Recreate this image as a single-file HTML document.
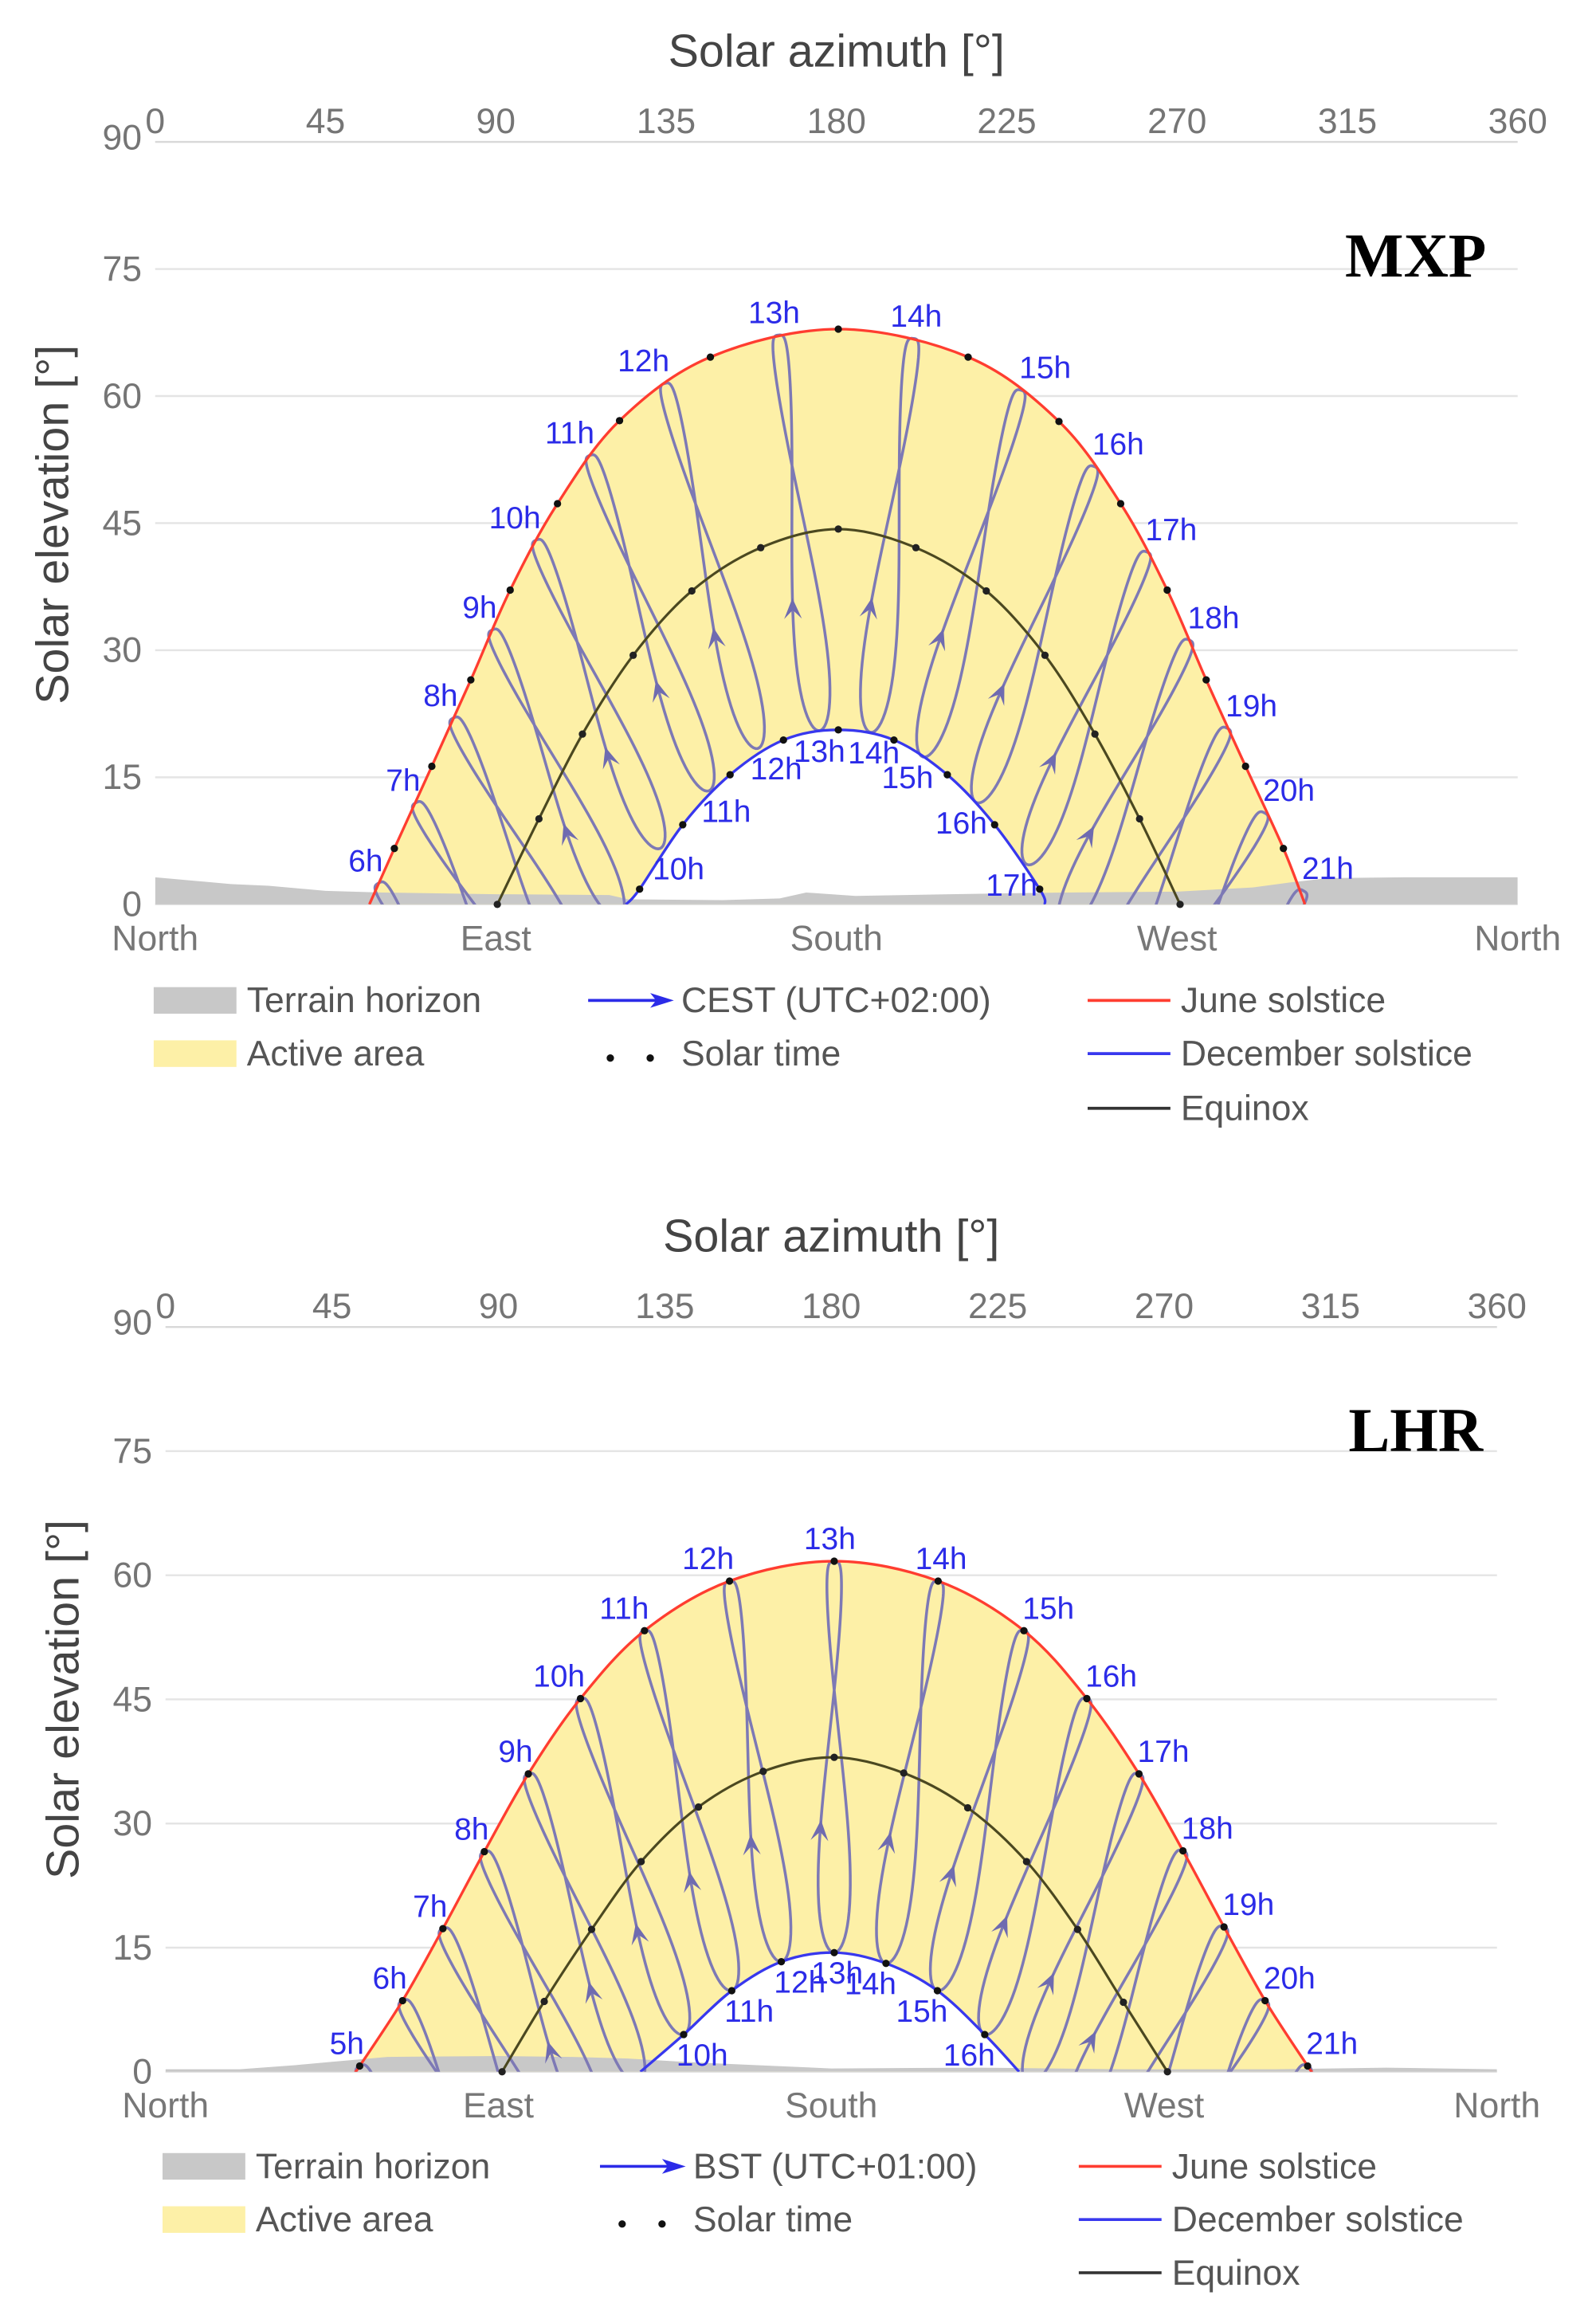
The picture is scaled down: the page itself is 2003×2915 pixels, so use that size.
<!DOCTYPE html>
<html>
<head>
<meta charset="utf-8">
<style>
html,body{margin:0;padding:0;background:#fff;}
svg{display:block;}
text{font-family:"Liberation Sans",Arial,sans-serif;}
</style>
</head>
<body>
<svg id="root" xmlns="http://www.w3.org/2000/svg" width="2003" height="2915" viewBox="0 0 1080 1572" preserveAspectRatio="none">
<rect x="0" y="0" width="1080" height="1572" fill="#fff"/>
</svg>
<script>
// ---------- tick labels ----------
const azTicks = [0,45,90,135,180,225,270,315,360];
const elTicks = [0,15,30,45,60,75,90];
const dirLabels = ['North','East','South','West','North'];
const dirAz = [0,90,180,270,360];

// ---------- MXP data ----------
const mxpJuneAz = [56.6,63.2,73.1,83.4,93.8,106.3,122.7,146.7,180.5,214.8,238.8,255.1,267.4,277.7,288.1,298.1,303.8];
const mxpJuneEl = [0,6.6,16.3,26.5,37.1,47.3,57.1,64.6,67.9,64.6,57.0,47.3,37.1,26.5,16.3,6.6,0];
const mxpEqAz = [90.4,101.4,112.9,126.3,141.8,160.0,180.5,201.0,219.6,235.1,248.3,260.1,270.8];
const mxpEqEl = [0,10.1,20.1,29.4,37.0,42.1,44.3,42.1,37.0,29.4,20.1,10.1,0];
const mxpDecAz = [124.4,128.0,139.4,151.9,166.0,180.5,195.2,209.3,221.8,233.7,235.1];
const mxpDecEl = [0,1.8,9.4,15.3,19.4,20.6,19.4,15.3,9.4,1.8,0];
const mxpHours = [6,7,8,9,10,11,12,13,14,15,16,17,18,19,20,21];
const mxpHourJuneAz = [59.0,68.9,78.8,89.1,100.7,114.9,134.7,164.7,200.3,228.7,248.0,262.0,273.2,283.2,293.1,303.4];
const mxpHourJuneEl = [2.5,12.0,22.0,32.4,43.0,53.0,61.5,67.2,66.8,60.7,51.7,41.6,31.2,20.8,10.8,1.6];
const mxpHourDecAz = [92.6,103.3,113.2,122.7,133.4,146.3,159.2,175.5,189.1,202.9,217.1,230.4,239.6,248.9,258.8,269.9];
const mxpHourDecEl = [-23.6,-16.8,-9.4,-1.6,6.6,13.4,18.4,20.5,20.3,17.4,12.0,4.7,-3.3,-11.2,-18.5,-25.1];
const mxpTerrainAz = [0,10,20,30,45,60,90,120,125,150,165,172,185,210,240,270,290,300,310,330,360];
const mxpTerrainEl = [3.2,2.8,2.4,2.2,1.6,1.4,1.2,1.1,0.6,0.5,0.7,1.4,1.0,1.2,1.4,1.5,2.0,2.6,3.1,3.2,3.2];

// ---------- LHR data ----------
const lhrJuneAz = [51.3,52.5,64.1,75.0,86.2,98.1,112.2,129.5,152.5,180.8,208.9,232.1,249.1,263.2,275.1,286.2,297.3,308.8,310.0];
const lhrJuneEl = [0,0.7,8.6,17.3,26.6,36.0,45.1,53.3,59.3,61.7,59.3,53.3,45.1,36.0,26.7,17.5,8.6,0.7,0];
const lhrEqAz = [91.0,102.4,115.2,128.6,144.1,161.6,180.8,199.6,216.9,232.8,246.6,259.0,270.9];
const lhrEqEl = [0,8.5,17.2,25.4,32.0,36.3,38.0,36.1,31.9,25.4,17.2,8.4,0];
const lhrDecAz = [128.4,140.1,153.1,166.5,180.8,194.8,208.7,221.5,230.8];
const lhrDecEl = [0,4.5,9.8,13.3,14.4,13.1,9.8,4.5,0];
const lhrHours = [5,6,7,8,9,10,11,12,13,14,15,16,17,18,19,20,21];
const lhrHourJuneAz = [52.5,64.1,75.0,86.2,98.1,112.2,129.5,152.5,180.8,208.9,232.1,249.1,263.2,275.1,286.2,297.3,308.8];
const lhrHourJuneEl = [0.7,8.6,17.3,26.6,36.0,45.1,53.3,59.3,61.7,59.3,53.3,45.1,36.0,26.7,17.5,8.6,0.7];
const lhrHourDecAz = [82.9,95.2,106.6,117.4,128.1,140.1,153.1,166.5,180.8,194.8,208.7,221.5,233.2,244.0,254.7,265.5,277.6];
const lhrHourDecEl = [-24.6,-19.6,-13.9,-7.6,-1.5,4.5,9.8,13.3,14.4,13.1,9.8,4.5,-1.5,-7.6,-13.8,-19.6,-24.6];
const lhrTerrainAz = [0,20,35,45,60,90,110,125,140,160,180,220,260,300,330,360];
const lhrTerrainEl = [0.3,0.3,0.8,1.2,1.8,1.9,1.8,1.6,1.2,0.8,0.4,0.5,0.3,0.3,0.5,0.3];

const NS = 'http://www.w3.org/2000/svg';
const root = document.getElementById('root');

function mk(tag, attrs, parent, name) {
  const n = document.createElementNS(NS, tag);
  for (const k in attrs) n.setAttribute(k, attrs[k]);
  
  
  parent.appendChild(n);
  return n;
}
function txt(str, attrs, parent, name) {
  const n = mk('text', attrs, parent, name);
  n.textContent = str;
  return n;
}
function smooth(pts) {
  let d = 'M' + pts[0][0].toFixed(2) + ',' + pts[0][1].toFixed(2);
  for (let i = 0; i < pts.length - 1; i++) {
    const p0 = pts[Math.max(0, i - 1)], p1 = pts[i], p2 = pts[i + 1], p3 = pts[Math.min(pts.length - 1, i + 2)];
    const c1 = [p1[0] + (p2[0] - p0[0]) / 6, p1[1] + (p2[1] - p0[1]) / 6];
    const c2 = [p2[0] - (p3[0] - p1[0]) / 6, p2[1] - (p3[1] - p1[1]) / 6];
    d += ' C' + c1[0].toFixed(2) + ',' + c1[1].toFixed(2) + ' ' + c2[0].toFixed(2) + ',' + c2[1].toFixed(2) + ' ' + p2[0].toFixed(2) + ',' + p2[1].toFixed(2);
  }
  return d;
}

function drawChart(c, idx) {
  const g = mk('g', {}, root, c.key + '-chart');
  const X = az => c.x0 + (c.x1 - c.x0) * az / 360;
  const Y = el => c.yBase - el * c.ppe;
  const grey = '#757575';

  const defs = mk('defs', {}, g, c.key + '-defs');
  const cp = mk('clipPath', {id: 'clip' + idx}, defs, c.key + '-clip');
  mk('rect', {x: c.x0, y: Y(90) - 5, width: c.x1 - c.x0, height: Y(0) - Y(90) + 5}, cp, c.key + '-clip-rect');

  txt('Solar azimuth [°]', {x: (c.x0 + c.x1) / 2, y: c.titleY + 11, 'text-anchor': 'middle', 'font-size': 31, fill: '#444'}, g, 'x-axis-title');
  azTicks.forEach((v) => {
    txt(String(v), {x: X(v), y: c.tickY + 9, 'text-anchor': 'middle', 'font-size': 24, fill: grey}, g, 'x-tick-' + v);
  });
  elTicks.forEach((v) => {
    mk('line', {x1: c.x0, x2: c.x1, y1: Y(v), y2: Y(v), stroke: v === 90 ? '#d8d8d8' : '#e4e4e4', 'stroke-width': 1.3}, g, 'gridline-' + v);
    txt(String(v), {x: c.x0 - 9, y: Y(v) + (v === 90 ? 5 : 8), 'text-anchor': 'end', 'font-size': 24, fill: grey}, g, 'y-tick-' + v);
  });
  txt('Solar elevation [°]', {x: 0, y: 0, transform: 'translate(' + (c.yTitleX + 11) + ',' + c.yTitleY + ') rotate(-90)', 'text-anchor': 'middle', 'font-size': 31, fill: '#444'}, g, 'y-axis-title');
  dirLabels.forEach((s, i) => {
    txt(s, {x: X(dirAz[i]), y: c.dirY + 8, 'text-anchor': 'middle', 'font-size': 24, fill: '#777'}, g, 'direction-' + s.toLowerCase());
  });
  txt(c.label, {x: 958, y: c.labelY + 14, 'text-anchor': 'middle', 'font-size': 42, 'font-weight': 'bold', fill: '#000', style: 'font-family:"Liberation Serif",serif'}, g, 'site-label');

  const pts = (a, e) => a.map((v, i) => [X(v), Y(e[i])]);
  const june = pts(c.juneAz, c.juneEl);
  const dec = pts(c.decAz, c.decEl);
  const eq = pts(c.eqAz, c.eqEl);

  const plot = mk('g', {'clip-path': 'url(#clip' + idx + ')'}, g, 'plot-area');
  mk('path', {d: smooth(june) + ' Z', fill: '#fdf0a7', stroke: 'none'}, plot, 'active-area');
  mk('path', {d: smooth(dec) + ' Z', fill: '#ffffff', stroke: 'none'}, plot, 'winter-gap');
  let td = 'M' + X(c.terrAz[0]) + ',' + Y(0);
  c.terrAz.forEach((a, i) => { td += ' L' + X(a).toFixed(2) + ',' + Y(c.terrEl[i]).toFixed(2); });
  td += ' L' + X(c.terrAz[c.terrAz.length - 1]) + ',' + Y(0) + ' Z';
  mk('path', {d: td, fill: '#c8c8c8', stroke: 'none'}, plot, 'terrain-horizon');

  const ana = mk('g', {}, plot, 'analemmas');
  const w = 10;
  c.hours.forEach((h, i) => {
    const T = [X(c.hJAz[i]), Y(c.hJEl[i])];
    const B = [X(c.hDAz[i]), Y(c.hDEl[i])];
    const dx = B[0] - T[0], dy = B[1] - T[1];
    const L = Math.hypot(dx, dy);
    const nx = -dy / L, ny = dx / L;
    const P = t => {
      const s0 = (1 - Math.cos(t)) / 2;
      const s = Math.pow(s0, 1.6);
      const off = w * Math.sin(2 * t) * (0.45 + 0.8 * s);
      return [T[0] + dx * s + nx * off, T[1] + dy * s + ny * off];
    };
    let d = '';
    const N = 120;
    for (let k = 0; k <= N; k++) {
      const p = P(2 * Math.PI * k / N);
      d += (k ? ' L' : 'M') + p[0].toFixed(2) + ',' + p[1].toFixed(2);
    }
    mk('path', {d: d, fill: 'none', stroke: '#7d79b5', 'stroke-width': 1.9}, ana, 'analemma-' + h + 'h');
    const ta = 1.3 * Math.PI;
    const a1 = P(ta), a2 = P(ta + 0.03);
    if (a1[1] < Y(0) - 8) {
      const ux = a2[0] - a1[0], uy = a2[1] - a1[1], ul = Math.hypot(ux, uy);
      const fx = ux / ul, fy = uy / ul;
      const tip = [a1[0] + fx * 8, a1[1] + fy * 8];
      const bl = [a1[0] - fx * 6 - fy * 6, a1[1] - fy * 6 + fx * 6];
      const br = [a1[0] - fx * 6 + fy * 6, a1[1] - fy * 6 - fx * 6];
      mk('polygon', {points: tip.join(',') + ' ' + bl.join(',') + ' ' + a1.join(',') + ' ' + br.join(','), fill: '#6f6bb0'}, ana, 'analemma-arrow-' + h + 'h');
    }
  });

  mk('path', {d: smooth(eq), fill: 'none', stroke: '#4b4820', 'stroke-width': 1.7}, plot, 'equinox-curve');
  mk('path', {d: smooth(june), fill: 'none', stroke: '#ff3d30', 'stroke-width': 1.8}, plot, 'june-solstice-curve');
  mk('path', {d: smooth(dec), fill: 'none', stroke: '#3838ee', 'stroke-width': 1.8}, plot, 'december-solstice-curve');

  const dots = mk('g', {}, g, 'solar-time-dots');
  june.forEach((p, i) => { if (c.juneEl[i] > 0) mk('circle', {cx: p[0], cy: p[1], r: 2.5, fill: '#111'}, dots, 'june-dot'); });
  eq.forEach((p) => { mk('circle', {cx: p[0], cy: p[1], r: 2.5, fill: '#222'}, dots, 'equinox-dot'); });
  dec.forEach((p, i) => { if (c.decEl[i] > 0) mk('circle', {cx: p[0], cy: p[1], r: 2.5, fill: '#111'}, dots, 'december-dot'); });

  const lab = mk('g', {}, g, 'hour-labels');
  c.hours.forEach((h, i) => {
    const a = c.hJAz[i];
    const px = X(a), py = Y(c.hJEl[i]);
    let anchor = 'middle', x = px - 3;
    if (a < 155) { anchor = 'end'; x = px + 3; }
    else if (a > 210) { anchor = 'start'; x = px - 1; }
    else if (a > 185) { x = px + 2; }
    txt(h + 'h', {x: x, y: py - 8, 'text-anchor': anchor, 'font-size': 21, fill: '#2b2be8'}, lab, 'june-hour-label-' + h);
    const da = c.hDAz[i], de = c.hDEl[i];
    if (de > 0) {
      const qx = X(da), qy = Y(de);
      let an2 = 'middle', x2 = qx;
      if (da < 170) { an2 = 'start'; x2 = qx - 5; }
      else if (da > 192) { an2 = 'end'; x2 = qx + 7; }
      else if (da < 180) { x2 = qx; } else { x2 = qx + 2; }
      txt(h + 'h', {x: x2, y: qy + 21, 'text-anchor': an2, 'font-size': 21, fill: '#2b2be8'}, lab, 'december-hour-label-' + h);
    }
  });

  const lg = mk('g', {}, g, 'legend');
  const L = c.leg;
  mk('rect', {x: L.sx, y: L.r[0] - 9, width: 56, height: 18, fill: '#c8c8c8'}, lg, 'legend-terrain-swatch');
  txt('Terrain horizon', {x: L.sx + 63, y: L.r[0] + 8, 'font-size': 24, fill: '#555'}, lg, 'legend-terrain-label');
  mk('rect', {x: L.sx, y: L.r[1] - 9, width: 56, height: 18, fill: '#fdf0a7'}, lg, 'legend-active-swatch');
  txt('Active area', {x: L.sx + 63, y: L.r[1] + 8, 'font-size': 24, fill: '#555'}, lg, 'legend-active-label');
  mk('line', {x1: L.ax, x2: L.ax + 50, y1: L.r[0], y2: L.r[0], stroke: '#2b2be8', 'stroke-width': 2}, lg, 'legend-timezone-line');
  mk('polygon', {points: (L.ax + 58) + ',' + L.r[0] + ' ' + (L.ax + 42) + ',' + (L.r[0] - 5) + ' ' + (L.ax + 46) + ',' + L.r[0] + ' ' + (L.ax + 42) + ',' + (L.r[0] + 5), fill: '#2b2be8'}, lg, 'legend-timezone-arrow');
  txt(c.tz, {x: L.ax + 63, y: L.r[0] + 8, 'font-size': 24, fill: '#555'}, lg, 'legend-timezone-label');
  mk('circle', {cx: L.ax + 15, cy: L.r[1] + 3, r: 2.5, fill: '#111'}, lg, 'legend-dot-1');
  mk('circle', {cx: L.ax + 42, cy: L.r[1] + 3, r: 2.5, fill: '#111'}, lg, 'legend-dot-2');
  txt('Solar time', {x: L.ax + 63, y: L.r[1] + 8, 'font-size': 24, fill: '#555'}, lg, 'legend-solar-time-label');
  const cols = ['#ff3d30', '#3838ee', '#333'];
  const names = ['June solstice', 'December solstice', 'Equinox'];
  names.forEach((n, i) => {
    mk('line', {x1: L.lx, x2: L.lx + 56, y1: L.r[i], y2: L.r[i], stroke: cols[i], 'stroke-width': 2}, lg, 'legend-line-' + i);
    txt(n, {x: L.lx + 63, y: L.r[i] + 8, 'font-size': 24, fill: '#555'}, lg, 'legend-label-' + i);
  });
}

drawChart({key: 'mxp', x0: 105, x1: 1027, yBase: 612, ppe: 5.733, titleY: 34, tickY: 81, dirY: 635, yTitleX: 35, yTitleY: 355, label: 'MXP', labelY: 173, tz: 'CEST (UTC+02:00)',
  juneAz: mxpJuneAz, juneEl: mxpJuneEl, eqAz: mxpEqAz, eqEl: mxpEqEl, decAz: mxpDecAz, decEl: mxpDecEl,
  hours: mxpHours, hJAz: mxpHourJuneAz, hJEl: mxpHourJuneEl, hDAz: mxpHourDecAz, hDEl: mxpHourDecEl,
  terrAz: mxpTerrainAz, terrEl: mxpTerrainEl,
  leg: {sx: 104, ax: 398, lx: 736, r: [677, 713, 750]}}, 0);

drawChart({key: 'lhr', x0: 112, x1: 1013, yBase: 1402, ppe: 5.6, titleY: 836, tickY: 883, dirY: 1425, yTitleX: 42, yTitleY: 1150, label: 'LHR', labelY: 968, tz: 'BST (UTC+01:00)',
  juneAz: lhrJuneAz, juneEl: lhrJuneEl, eqAz: lhrEqAz, eqEl: lhrEqEl, decAz: lhrDecAz, decEl: lhrDecEl,
  hours: lhrHours, hJAz: lhrHourJuneAz, hJEl: lhrHourJuneEl, hDAz: lhrHourDecAz, hDEl: lhrHourDecEl,
  terrAz: lhrTerrainAz, terrEl: lhrTerrainEl,
  leg: {sx: 110, ax: 406, lx: 730, r: [1466, 1502, 1538]}}, 1);
</script>
</body>
</html>
